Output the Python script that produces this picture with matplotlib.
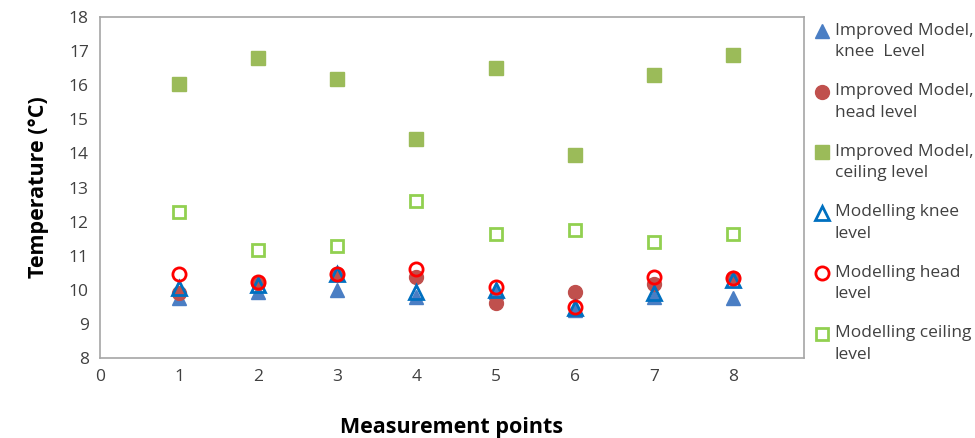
import matplotlib.pyplot as plt
import numpy as np

plt.rcParams['font.family'] = ['Open Sans', 'DejaVu Sans']

# 测量点
points = [1, 2, 3, 4, 5, 6, 7, 8]

imp_knee = [9.77, 9.95, 10.0, 9.8, 9.95, 9.4, 9.8, 9.77]
imp_head = [9.9, 10.2, 10.45, 10.38, 9.62, 9.93, 10.17, 10.35]
imp_ceiling = [16.04, 16.8, 16.18, 14.42, 16.5, 13.94, 16.3, 16.9]
mod_knee = [10.05, 10.15, 10.45, 9.95, 10.0, 9.47, 9.92, 10.3]
mod_head = [10.46, 10.22, 10.46, 10.6, 10.09, 9.5, 10.38, 10.34]
mod_ceiling = [12.29, 11.17, 11.28, 12.6, 11.64, 11.76, 11.41, 11.65]

labels = ['Improved Model,\nknee  Level', 'Improved Model,\nhead level',
          'Improved Model,\nceiling level', 'Modelling knee\nlevel',
          'Modelling head\nlevel', 'Modelling ceiling\nlevel']

fig = plt.figure(figsize=(9.75, 4.38), dpi=100)
ax = fig.add_axes([100/975, 1 - 358/438, 704/975, 341/438])

ax.plot(points, imp_knee, ls='none', marker='^', ms=9.5, color='#4A7EC4', label=labels[0])
ax.plot(points, imp_head, ls='none', marker='o', ms=10, color='#C0504D', label=labels[1])
ax.plot(points, imp_ceiling, ls='none', marker='s', ms=9.5, color='#9BBB59', label=labels[2])
ax.plot(points, mod_knee, ls='none', marker='^', ms=9.5, mfc='none', mec='#0070C0', mew=2, label=labels[3])
ax.plot(points, mod_head, ls='none', marker='o', ms=9.5, mfc='none', mec='#FF0000', mew=2, label=labels[4])
ax.plot(points, mod_ceiling, ls='none', marker='s', ms=9, mfc='none', mec='#92D050', mew=2, label=labels[5])

ax.set_xlim(0, 8.9)
ax.set_ylim(8, 18)
ax.set_xticks(range(0, 9))
ax.set_yticks(range(8, 19))
ax.tick_params(length=0, labelsize=12.5, colors='#404040', pad=8)
for s in ax.spines.values():
    s.set_color('#A6A6A6')
    s.set_linewidth(1.2)

ax.set_ylabel('Temperature (\u00b0C)', fontsize=15.5, fontweight='bold', labelpad=14)
fig.text(452/975, 1 - 427/438, 'Measurement points', fontsize=15.5, fontweight='bold',
         ha='center', va='center')

leg = fig.legend(loc='upper left', bbox_to_anchor=(808/975, 1 - 16/438), frameon=False,
                 fontsize=12.5, handlelength=0.8, handletextpad=0.35, labelspacing=1.33,
                 borderaxespad=0, labelcolor='#404040')
for t in leg.get_texts():
    t.set_linespacing(1.45)
# 图例标记与第一行文字对齐
for h in leg.legend_handles:
    h.set_ydata(np.asarray(h.get_ydata()) + 7.5)

fig.savefig('out.png', dpi=100)
